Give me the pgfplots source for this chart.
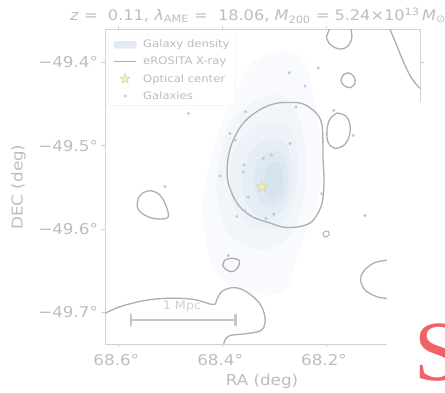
\documentclass[border=0pt]{standalone}
\usepackage{pgfplots}
\pgfplotsset{compat=1.18}
\usepackage{fontspec}
\setmainfont[FakeStretch=1.12]{DejaVu Sans}
\newfontfamily\serifS{Liberation Serif}
\definecolor{tickgray}{HTML}{BDBDBD}
\definecolor{spinegray}{HTML}{D2D2D2}
\definecolor{contgray}{HTML}{AEAEAE}
\definecolor{galblue}{HTML}{B6CBDF}
\definecolor{dA}{HTML}{F8FAFD}
\definecolor{dB}{HTML}{F2F6FA}
\definecolor{dC}{HTML}{ECF2F8}
\definecolor{dD}{HTML}{E5EDF5}
\definecolor{dE}{HTML}{DEE8F2}
\definecolor{dF}{HTML}{D6E2EE}
\definecolor{legblue}{HTML}{DCE6F1}
\definecolor{starfill}{HTML}{F1F1B6}
\definecolor{stardraw}{HTML}{D2D2A2}
\definecolor{bargray}{HTML}{C6C6C6}
\definecolor{redS}{HTML}{F06266}
\pgfdeclareplotmark{fstar}{%
  \pgfpathmoveto{\pgfpointpolar{90}{\pgfplotmarksize}}%
  \pgfpathlineto{\pgfpointpolar{126}{0.42\pgfplotmarksize}}%
  \pgfpathlineto{\pgfpointpolar{162}{\pgfplotmarksize}}%
  \pgfpathlineto{\pgfpointpolar{198}{0.42\pgfplotmarksize}}%
  \pgfpathlineto{\pgfpointpolar{234}{\pgfplotmarksize}}%
  \pgfpathlineto{\pgfpointpolar{270}{0.42\pgfplotmarksize}}%
  \pgfpathlineto{\pgfpointpolar{306}{\pgfplotmarksize}}%
  \pgfpathlineto{\pgfpointpolar{342}{0.42\pgfplotmarksize}}%
  \pgfpathlineto{\pgfpointpolar{18}{\pgfplotmarksize}}%
  \pgfpathlineto{\pgfpointpolar{54}{0.42\pgfplotmarksize}}%
  \pgfpathclose
  \pgfusepathqfillstroke
}
\newcommand{\legspace}{\path[draw=none, fill=none] (-2bp,-0.1bp) rectangle (27bp,0.1bp);}
\begin{document}
\begin{tikzpicture}
\useasboundingbox (0,0) rectangle (445bp,393bp);
\begin{axis}[
  at={(105bp,49bp)}, anchor=south west,
  scale only axis, width=315bp, height=314.5bp,
  x dir=reverse,
  xmin=68.019, xmax=68.6256, ymin=-49.7383, ymax=-49.3603,
  axis line style={spinegray, line width=0.8bp},
  tick style={spinegray, line width=0.8bp},
  major tick length=3.5bp,
  tick align=outside, tick pos=both,
  xticklabel pos=bottom, yticklabel pos=left,
  xtick={68.6,68.4,68.2}, xticklabels={68.6°,68.4°,68.2°},
  ytick={-49.7,-49.6,-49.5,-49.4}, yticklabels={−49.7°,−49.6°,−49.5°,−49.4°},
  ticklabel style={font=\fontsize{15}{17}\selectfont, text=tickgray},
  xticklabel style={yshift=-3.5bp, xshift=-2bp},
  scaled ticks=false,
  legend cell align=left,
  legend style={at={(0.0095,0.983)}, anchor=north west, draw=black!6, fill=white,
    fill opacity=0.8, text opacity=1, rounded corners=2bp,
    font=\fontsize{10.4}{12}\selectfont, text=tickgray, row sep=3.8bp,
    inner xsep=4bp, inner ysep=3bp},
]
\addlegendimage{legend image code/.code={\legspace\fill[legblue] (0bp,-3.5bp) rectangle (22bp,3.5bp);}}
\addlegendentry{Galaxy density}
\addlegendimage{legend image code/.code={\legspace\draw[contgray, line width=1.3bp] (0bp,0bp) -- (22bp,0bp);}}
\addlegendentry{eROSITA X-ray}
\addlegendimage{legend image code/.code={\legspace\path[draw=none] plot[mark=fstar, mark size=5bp, mark options={fill=starfill, draw=stardraw, line width=0.6bp}] coordinates {(11bp,0bp)};}}
\addlegendentry{Optical center}
\addlegendimage{legend image code/.code={\legspace\fill[galblue] (11bp,0bp) circle (1.3bp);}}
\addlegendentry{Galaxies}

% galaxy density (KDE) filled levels
\addplot[fill=dA, draw=none, smooth, tension=0.6, forget plot] coordinates {
(68.3175,-49.3910) (68.2693,-49.3874) (68.2405,-49.3994) (68.2270,-49.4331) (68.2154,-49.4691)
(68.2077,-49.5172) (68.2154,-49.5653) (68.2405,-49.6073) (68.2597,-49.6434) (68.2790,-49.6734)
(68.3233,-49.6794) (68.3753,-49.6710) (68.4138,-49.6518) (68.4292,-49.6194) (68.4369,-49.5833)
(68.4330,-49.5472) (68.4176,-49.5052) (68.3945,-49.4631) (68.3656,-49.4270) (68.3464,-49.4030)
(68.3175,-49.3910)} --cycle;
\addplot[fill=dB, draw=none, smooth, tension=0.6, forget plot] coordinates {
(68.3367,-49.4451) (68.2886,-49.4391) (68.2539,-49.4631) (68.2405,-49.5052) (68.2405,-49.5532)
(68.2539,-49.5893) (68.2790,-49.6133) (68.3233,-49.6254) (68.3656,-49.6169) (68.3945,-49.5989)
(68.4080,-49.5713) (68.4099,-49.5352) (68.4003,-49.4992) (68.3753,-49.4667) (68.3367,-49.4451)} --cycle;
\addplot[fill=dC, draw=none, smooth, tension=0.6, forget plot] coordinates {
(68.3271,-49.4751) (68.2847,-49.4715) (68.2597,-49.4932) (68.2539,-49.5352) (68.2636,-49.5713)
(68.2847,-49.5941) (68.3213,-49.6013) (68.3560,-49.5917) (68.3791,-49.5713) (68.3849,-49.5412)
(68.3791,-49.5112) (68.3560,-49.4871) (68.3271,-49.4751)} --cycle;
\addplot[fill=dD, draw=none, smooth, tension=0.6, forget plot] coordinates {
(68.3175,-49.4932) (68.2847,-49.4932) (68.2674,-49.5148) (68.2655,-49.5472) (68.2751,-49.5713)
(68.2982,-49.5857) (68.3271,-49.5857) (68.3502,-49.5713) (68.3599,-49.5472) (68.3541,-49.5196)
(68.3387,-49.5028) (68.3175,-49.4932)} --cycle;
\addplot[fill=dE, draw=none, smooth, tension=0.6, forget plot] coordinates {
(68.3117,-49.5076) (68.2886,-49.5076) (68.2751,-49.5256) (68.2751,-49.5508) (68.2886,-49.5689)
(68.3117,-49.5737) (68.3310,-49.5629) (68.3387,-49.5412) (68.3329,-49.5208) (68.3117,-49.5076)} --cycle;
\addplot[fill=dF, draw=none, smooth, tension=0.6, forget plot] coordinates {
(68.3059,-49.5208) (68.2905,-49.5208) (68.2828,-49.5352) (68.2847,-49.5532) (68.2982,-49.5629)
(68.3136,-49.5581) (68.3194,-49.5412) (68.3156,-49.5280) (68.3059,-49.5208)} --cycle;

% eROSITA X-ray contours
\addplot[contgray, line width=1.3bp, smooth, tension=0.6, forget plot] coordinates {
(68.2886,-49.4483) (68.2501,-49.4487) (68.2250,-49.4571) (68.2102,-49.4691) (68.2064,-49.4847)
(68.2058,-49.5136) (68.2039,-49.5412) (68.2064,-49.5653) (68.2154,-49.5809) (68.2308,-49.5929)
(68.2564,-49.5977) (68.2828,-49.5977) (68.3079,-49.5929) (68.3406,-49.5857) (68.3656,-49.5737)
(68.3816,-49.5568) (68.3901,-49.5376) (68.3882,-49.5136) (68.3785,-49.4931) (68.3593,-49.4727)
(68.3335,-49.4591) (68.3079,-49.4511) (68.2886,-49.4483)};
\addplot[contgray, line width=1.3bp, smooth, tension=0.6, forget plot] coordinates {
(68.1788,-49.4607) (68.1615,-49.4643) (68.1538,-49.4751) (68.1557,-49.4895) (68.1673,-49.5004)
(68.1846,-49.5028) (68.1962,-49.4956) (68.1981,-49.4811) (68.1923,-49.4679) (68.1788,-49.4607)};
\addplot[contgray, line width=1.0bp, smooth, tension=0.6, forget plot] coordinates {
(68.2039,-49.6037) (68.1962,-49.6025) (68.1942,-49.6073) (68.2019,-49.6097) (68.2058,-49.6073) (68.2039,-49.6037)};
\addplot[contgray, line width=1.3bp, smooth, tension=0.6, forget plot] coordinates {
(68.5615,-49.5632) (68.5519,-49.5565) (68.5357,-49.5541) (68.5197,-49.5593) (68.5101,-49.5692)
(68.5037,-49.5812) (68.5068,-49.5873) (68.5326,-49.5873) (68.5549,-49.5812) (68.5634,-49.5733) (68.5615,-49.5632)};
\addplot[contgray, line width=1.3bp, smooth, tension=0.6, forget plot] coordinates {
(68.3945,-49.6374) (68.3816,-49.6353) (68.3670,-49.6382) (68.3708,-49.6473) (68.3816,-49.6514)
(68.3926,-49.6486) (68.3989,-49.6434) (68.3945,-49.6374)};
\addplot[contgray, line width=1.3bp, smooth, tension=0.6, forget plot] coordinates {
(68.6449,-49.7071) (68.6256,-49.7014) (68.5967,-49.6935) (68.5519,-49.6863) (68.5068,-49.6834)
(68.4556,-49.6846) (68.4176,-49.6909) (68.4105,-49.6854) (68.4009,-49.6755) (68.3816,-49.6707)
(68.3593,-49.6734) (68.3335,-49.6854) (68.3204,-49.6987) (68.3175,-49.7135) (68.3271,-49.7227)
(68.3593,-49.7263) (68.3849,-49.7281) (68.3945,-49.7335) (68.3984,-49.7431)};
\addplot[contgray, line width=1.3bp, smooth, tension=0.6, forget plot] coordinates {
(68.0575,-49.6350) (68.0831,-49.6374) (68.1089,-49.6413) (68.1282,-49.6514) (68.1332,-49.6614)
(68.1249,-49.6734) (68.1024,-49.6815) (68.0831,-49.6834) (68.0575,-49.6854)};
\addplot[contgray, line width=1.3bp, smooth, tension=0.6, forget plot] coordinates {
(68.1937,-49.3549) (68.1937,-49.3597) (68.1987,-49.3709) (68.1890,-49.3798) (68.1731,-49.3838)
(68.1590,-49.3810) (68.1505,-49.3709) (68.1519,-49.3597) (68.1538,-49.3549)};
\addplot[contgray, line width=1.3bp, smooth, tension=0.6, forget plot] coordinates {
(68.1667,-49.4150) (68.1571,-49.4123) (68.1461,-49.4171) (68.1442,-49.4250) (68.1538,-49.4303)
(68.1667,-49.4270) (68.1711,-49.4210) (68.1667,-49.4150)};
\addplot[contgray, line width=1.3bp, smooth, tension=0.6, forget plot] coordinates {
(68.0787,-49.3537) (68.0768,-49.3597) (68.0639,-49.3790) (68.0511,-49.3990) (68.0350,-49.4190)
(68.0190,-49.4310) (68.0074,-49.4379)};

% member galaxies
\addplot[only marks, mark=*, mark size=1.3bp, galblue, mark options={draw=none}, forget plot] coordinates {
(68.2707,-49.4123) (68.2148,-49.4066) (68.2405,-49.4282) (68.4652,-49.4611) (68.3550,-49.4591)
(68.2578,-49.4535) (68.1852,-49.4575) (68.3849,-49.4851) (68.3753,-49.4935) (68.2693,-49.4976)
(68.3046,-49.5112) (68.3208,-49.5151) (68.3579,-49.5232) (68.3593,-49.5316) (68.4036,-49.5364)
(68.5101,-49.5490) (68.3496,-49.5617) (68.2083,-49.5577) (68.3560,-49.5785) (68.3714,-49.5849)
(68.3156,-49.5875) (68.3007,-49.5824) (68.1474,-49.4877) (68.1249,-49.5839) (68.3882,-49.6320)};

% optical centre
\addplot[only marks, mark=fstar, mark size=6bp, mark options={fill=starfill, draw=stardraw, line width=0.6bp}, forget plot] coordinates {(68.3233,-49.5493)};

% 1 Mpc scale bar
\addplot[bargray, line width=2.2bp, {|-|}, forget plot] coordinates {(68.5775,-49.7095) (68.3720,-49.7095)};
\node[text=black!18, font=\fontsize{11.5}{14}\selectfont] at (axis cs:68.4773,-49.6935) {1 Mpc};
\end{axis}
% region of the original image that is covered
\fill[white] (387bp,0bp) rectangle (446bp,290.5bp);
\node[text=redS, font=\serifS\fontsize{86}{90}\selectfont, anchor=base west, inner sep=0pt] at (414bp,13bp) {S};
% titles
\node[text=tickgray, font=\fontsize{14.5}{17}\selectfont, anchor=base west, inner sep=0pt] at (70bp,372.5bp)
  {\textit{z} =\ \ 0.11, \textit{λ}\textsubscript{AME} =\ \ 18.06, \textit{M}\textsubscript{200} =\ 5.24×10\textsuperscript{13}\,\textit{M}\textsubscript{⊙}};
\node[text=tickgray, font=\fontsize{15}{17}\selectfont] at (262bp,12bp) {RA (deg)};
\node[text=tickgray, font=\fontsize{15}{17}\selectfont, rotate=90] at (18.5bp,206bp) {DEC (deg)};
\end{tikzpicture}
\end{document}
